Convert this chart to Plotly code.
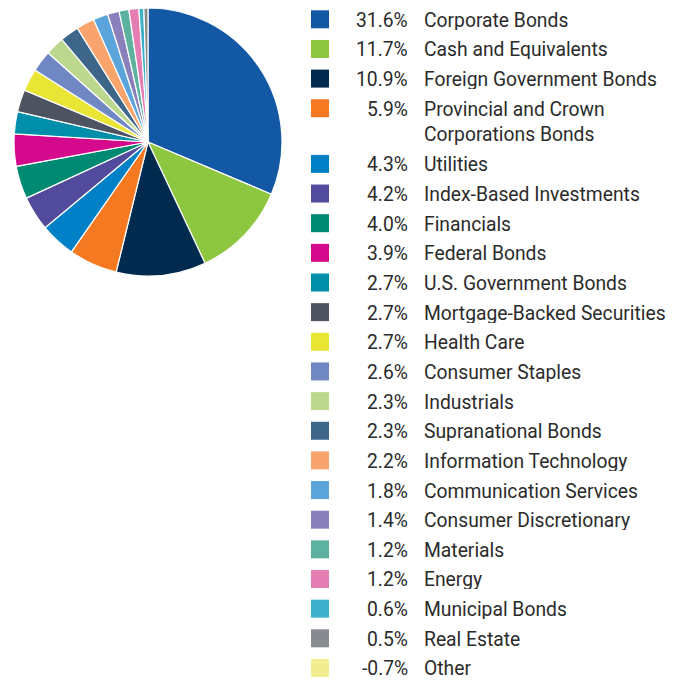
import plotly.graph_objects as go

categories = ["Corporate Bonds", "Cash and Equivalents", "Foreign Government Bonds",
              "Provincial and Crown<br>Corporations Bonds", "Utilities", "Index-Based Investments",
              "Financials", "Federal Bonds", "U.S. Government Bonds", "Mortgage-Backed Securities",
              "Health Care", "Consumer Staples", "Industrials", "Supranational Bonds",
              "Information Technology", "Communication Services", "Consumer Discretionary",
              "Materials", "Energy", "Municipal Bonds", "Real Estate", "Other"]
values = [31.6, 11.7, 10.9, 5.9, 4.3, 4.2, 4.0, 3.9, 2.7, 2.7, 2.7, 2.6, 2.3, 2.3,
          2.2, 1.8, 1.4, 1.2, 1.2, 0.6, 0.5, -0.7]
colors = ["#1358A5", "#8DC63F", "#002B4F", "#F47920", "#0080C6", "#524A9C",
          "#008A74", "#D4098C", "#008EAA", "#4D5360", "#E9E534", "#6F87C3",
          "#BCD88E", "#3D6689", "#F9A46C", "#5AA4DB", "#8A80BC", "#5CB29E",
          "#E47DB2", "#3DB1CC", "#878A8F", "#F0EE90"]

W, H = 680, 681
pie_vals = [v for v in values if v > 0]
pie_cols = [c for v, c in zip(values, colors) if v > 0]
pie_labels = [l.replace("<br>", " ") for v, l in zip(values, categories) if v > 0]

fig = go.Figure()
fig.add_trace(go.Pie(
    labels=pie_labels, values=pie_vals, sort=False, direction="clockwise", rotation=0,
    marker=dict(colors=pie_cols, line=dict(color="white", width=1.2)),
    textinfo="none", hoverinfo="label+value", showlegend=False,
    domain=dict(x=[14 / W, 282 / W], y=[1 - 276 / H, 1 - 8 / H]),
))

# legend rows (pixel centers from top)
y = 19.3
step = 29.65
font = dict(family="Roboto", size=19.3, color="#2b2b2b")
for lab, v, c in zip(categories, values, colors):
    fig.add_shape(type="rect", xref="paper", yref="paper",
                  x0=311 / W, x1=329 / W, y0=1 - (y + 9) / H, y1=1 - (y - 9) / H,
                  fillcolor=c, line=dict(width=0))
    fig.add_annotation(xref="paper", yref="paper", x=410 / W, y=1 - (y - 11.5) / H,
                       xanchor="right", yanchor="top", height=20, valign="middle",
                       text=f"{v:.1f}%", showarrow=False, font=font)
    two = "<br>" in lab
    fig.add_annotation(xref="paper", yref="paper", x=422 / W, y=1 - (y - 11.5) / H,
                       xanchor="left", yanchor="top", height=46 if two else 20,
                       valign="middle", text=lab, showarrow=False,
                       font=font, align="left")
    y += step + (26 if two else 0)

fig.update_layout(width=W, height=H, margin=dict(l=0, r=0, t=0, b=0),
                  paper_bgcolor="white", plot_bgcolor="white")
fig.write_html("out.html", config={"displayModeBar": False},
               post_script="document.body.style.margin='0';")
